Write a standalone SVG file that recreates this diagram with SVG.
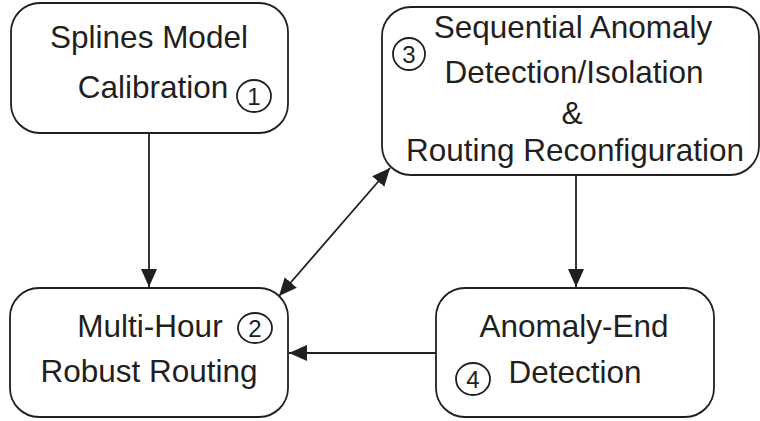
<svg xmlns="http://www.w3.org/2000/svg" width="760" height="421" viewBox="0 0 760 421">
<style>
.box{fill:#fff;stroke:#231f20;stroke-width:1.8}
.t{font-family:"Liberation Sans",Arial,sans-serif;font-size:31.5px;fill:#231f20;text-anchor:middle}
.n{font-family:"Liberation Sans",Arial,sans-serif;font-size:24px;fill:#231f20;text-anchor:middle}
.c{fill:none;stroke:#231f20;stroke-width:1.8}
.e{stroke:#231f20;stroke-width:1.8;fill:none}
</style>
<defs>
<marker id="ah" viewBox="0 0 18 16" refX="18" refY="8" markerWidth="18" markerHeight="16" markerUnits="userSpaceOnUse" orient="auto-start-reverse">
<path d="M0,0 L18,8 L0,16 Z" fill="#231f20"/>
</marker>
</defs>
<g id="connectors">
<line class="e" x1="149" y1="133" x2="149" y2="287" marker-end="url(#ah)"/>
<line class="e" x1="576" y1="175" x2="576" y2="287" marker-end="url(#ah)"/>
<line class="e" x1="436" y1="353" x2="289" y2="353" marker-end="url(#ah)"/>
<line class="e" x1="279" y1="296" x2="390" y2="168" marker-start="url(#ah)" marker-end="url(#ah)"/>
</g>
<g id="node1">
<rect class="box" x="11" y="3" width="277" height="130" rx="29"/>
<text class="t" x="149" y="48">Splines Model</text>
<text class="t" x="153" y="98">Calibration</text>
<ellipse class="c" cx="254" cy="96" rx="17" ry="16"/>
<text class="n" x="254" y="105">1</text>
</g>
<g id="node3">
<rect class="box" x="382" y="7" width="377" height="168" rx="29"/>
<text class="t" x="573" y="38">Sequential Anomaly</text>
<text class="t" x="574" y="83">Detection/Isolation</text>
<text class="t" x="572" y="124">&amp;</text>
<text class="t" x="575" y="161">Routing Reconfiguration</text>
<ellipse class="c" cx="409" cy="54" rx="16" ry="16"/>
<text class="n" x="409" y="63">3</text>
</g>
<g id="node2">
<rect class="box" x="10" y="288" width="278" height="129" rx="29"/>
<text class="t" x="150" y="337">Multi-Hour</text>
<text class="t" x="149" y="382">Robust Routing</text>
<ellipse class="c" cx="255" cy="328" rx="17" ry="15"/>
<text class="n" x="255" y="337">2</text>
</g>
<g id="node4">
<rect class="box" x="436" y="288" width="278" height="129" rx="29"/>
<text class="t" x="574" y="337">Anomaly-End</text>
<text class="t" x="575" y="383">Detection</text>
<ellipse class="c" cx="473" cy="379" rx="17" ry="16"/>
<text class="n" x="473" y="388">4</text>
</g>
</svg>
